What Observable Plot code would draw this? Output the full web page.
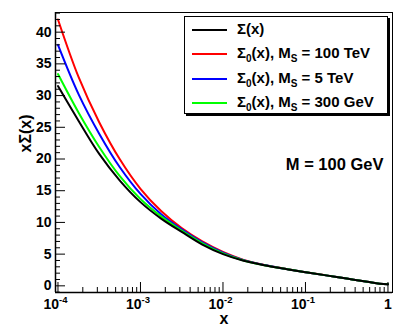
<!DOCTYPE html>
<html><head><meta charset="utf-8">
<script src="https://cdn.jsdelivr.net/npm/d3@7"></script>
<script src="https://cdn.jsdelivr.net/npm/@observablehq/plot@0.6"></script>
<style>
body{margin:0;background:#fff;}
#wrap{position:relative;width:403px;height:332px;font-family:"Liberation Sans",Arial,sans-serif;font-weight:bold;}
#legend{position:absolute;left:184px;top:16px;width:202px;height:96px;border:1px solid #000;background:#fff;box-shadow:2px 2px 0 #000;}
.row{position:absolute;left:0;height:20px;font-size:15px;line-height:20px;}
.row .sw{position:absolute;left:7px;top:10px;width:35px;height:2px;}
.row .lb{position:absolute;left:52px;top:0;white-space:nowrap;}
sub{font-size:10px;vertical-align:-4px;line-height:0;}
</style>
</head><body><div id="wrap"><div id="legend"></div></div>
<script>
// x sample points (log-spaced) and curve values
const xs = [0.0001, 0.000178, 0.000316, 0.000562, 0.001, 0.00178, 0.00316, 0.00562, 0.01, 0.0178, 0.0316, 0.0562, 0.1, 0.178, 0.316, 0.562, 0.794, 1];
const sigma         = [31.5, 26.0, 20.8, 16.6, 13.2, 10.6, 8.5, 6.5, 5.0, 3.95, 3.25, 2.68, 2.14, 1.65, 1.14, 0.63, 0.33, 0.27];
const sigma0_100TeV = [42.0, 32.9, 25.8, 19.95, 15.3, 11.8, 9.1, 7.0, 5.35, 4.1, 3.3, 2.7, 2.14, 1.65, 1.14, 0.63, 0.33, 0.27];
const sigma0_5TeV   = [38.0, 30.2, 24.0, 18.7, 14.5, 11.3, 8.9, 6.85, 5.25, 4.05, 3.28, 2.69, 2.14, 1.65, 1.14, 0.63, 0.33, 0.27];
const sigma0_300GeV = [33.4, 27.3, 21.9, 17.3, 13.7, 10.95, 8.7, 6.7, 5.12, 4.0, 3.26, 2.68, 2.14, 1.65, 1.14, 0.63, 0.33, 0.27];
const seriesNames = ["Σ(x)", "Σ0(x), MS = 100 TeV", "Σ0(x), MS = 5 TeV", "Σ0(x), MS = 300 GeV"];
const seriesLabelsHtml = ["Σ(x)", "Σ<sub>0</sub>(x), M<sub>S</sub> = 100 TeV", "Σ<sub>0</sub>(x), M<sub>S</sub> = 5 TeV", "Σ<sub>0</sub>(x), M<sub>S</sub> = 300 GeV"];
const seriesColors = ["#000000", "#ff0000", "#0000ff", "#00ff00"];
const yMajorTicks = [0, 5, 10, 15, 20, 25, 30, 35, 40];
const yMinorTicks = [-1, 1, 2, 3, 4, 6, 7, 8, 9, 11, 12, 13, 14, 16, 17, 18, 19, 21, 22, 23, 24, 26, 27, 28, 29, 31, 32, 33, 34, 36, 37, 38, 39, 41, 42, 43];
const xDecades = [1e-4, 1e-3, 1e-2, 1e-1];
const xDecadeExp = ["-4", "-3", "-2", "-1"];
const xOne = [1];
const xMinorMult = [2, 3, 4, 5, 6, 7, 8, 9];
const annotation = "M = 100 GeV";
const yTitle = "xΣ(x)";
const xTitle = "x";

const xMinorTicks = xDecades.flatMap(d => xMinorMult.map(k => d * k));
const allSeries = [sigma, sigma0_100TeV, sigma0_5TeV, sigma0_300GeV];
const rows = [];
allSeries.forEach((vals, i) => vals.forEach((v, j) => rows.push({x: xs[j], y: v, s: seriesNames[i]})));
const order = [1, 2, 3, 0];
const xLo = Math.pow(10, -4.03), yLo = -1.05;

const font = '"Liberation Sans", Arial, sans-serif';
const chart = Plot.plot({
  width: 403, height: 332,
  marginLeft: 55, marginRight: 11, marginTop: 12, marginBottom: 40,
  style: {fontFamily: font, fontWeight: "bold", background: "#fff"},
  x: {type: "log", domain: [xLo, Math.pow(10, 0.055)], axis: null},
  y: {domain: [yLo, 43.1], axis: null},
  marks: [
    ...order.map(i => Plot.line(rows.filter(r => r.s === seriesNames[i]), {x: "x", y: "y", stroke: seriesColors[i], strokeWidth: 2, curve: "catmull-rom"})),
    Plot.frame({stroke: "#000", strokeWidth: 1}),
    Plot.axisY(yMajorTicks, {anchor: "left", tickSize: 10, dx: 10, text: null, label: null, stroke: "#000"}),
    Plot.axisY(yMinorTicks, {anchor: "left", tickSize: 5, dx: 5, text: null, label: null, stroke: "#000"}),
    Plot.axisY(yMajorTicks, {anchor: "left", tickSize: 0, tickPadding: 4, label: null, fontSize: 14, fontWeight: "bold", fill: "#000"}),
    Plot.axisX([...xDecades, ...xOne], {anchor: "bottom", tickSize: 10, dy: -10, text: null, label: null, stroke: "#000"}),
    Plot.axisX(xMinorTicks, {anchor: "bottom", tickSize: 5, dy: -5, text: null, label: null, stroke: "#000"}),
    Plot.ruleX([xLo], {stroke: "#000", strokeWidth: 1.5}),
    Plot.ruleY([yLo], {stroke: "#000", strokeWidth: 1.5}),
    Plot.text(xDecades, {x: d => d, frameAnchor: "bottom", dy: 16, dx: 1, text: () => "10", textAnchor: "end", fontSize: 14, fontWeight: "bold", fill: "#000"}),
    Plot.text(xDecades, {x: d => d, frameAnchor: "bottom", dy: 10, dx: 1, text: (d, i) => xDecadeExp[i], textAnchor: "start", fontSize: 9.5, fontWeight: "bold", fill: "#000"}),
    Plot.text(xOne, {x: d => d, frameAnchor: "bottom", dy: 16, text: () => "1", textAnchor: "middle", fontSize: 14, fontWeight: "bold", fill: "#000"}),
    Plot.text([xTitle], {frameAnchor: "bottom", dy: 31, text: d => d, fontSize: 16, fontWeight: "bold", fill: "#000"}),
    Plot.text([yTitle], {frameAnchor: "left", dx: -30, rotate: -90, text: d => d, fontSize: 16, fontWeight: "bold", fill: "#000"}),
    Plot.text([annotation], {frameAnchor: "top-right", dx: -9, dy: 146, text: d => d, textAnchor: "end", fontSize: 16.5, fontWeight: "bold", fill: "#000"})
  ]
});
document.getElementById("wrap").prepend(chart);
const leg = document.getElementById("legend");
const rowTops = [2, 26, 51, 75];
seriesLabelsHtml.forEach((h, i) => {
  const r = document.createElement("div");
  r.className = "row";
  r.style.top = rowTops[i] + "px";
  r.innerHTML = `<div class="sw" style="background:${seriesColors[i]}"></div><div class="lb">${h}</div>`;
  leg.appendChild(r);
});
</script>
</body></html>
